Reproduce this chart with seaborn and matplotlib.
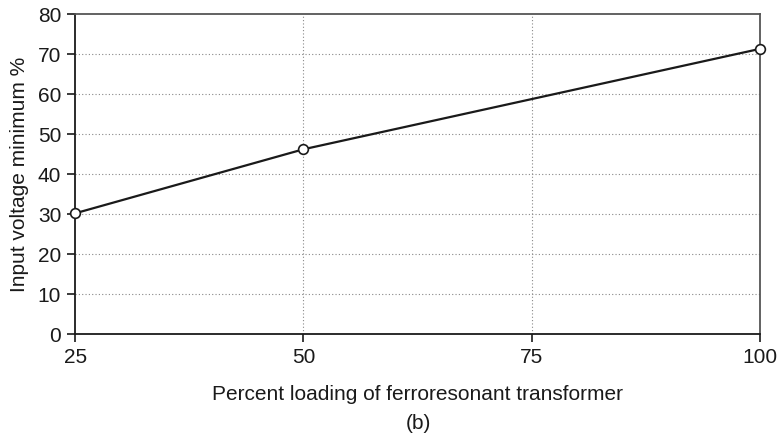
import matplotlib
matplotlib.use("Agg")
import matplotlib.pyplot as plt
import seaborn as sns
import pandas as pd

# Dane
loading = [25, 50, 100]
voltage_min = [30.2, 46.2, 71.3]
x_ticks = [25, 50, 75, 100]
y_ticks = [0, 10, 20, 30, 40, 50, 60, 70, 80]

df = pd.DataFrame({"Loading": loading, "Voltage": voltage_min})

sns.set_style("white")
plt.rcParams["font.family"] = ["Liberation Sans", "DejaVu Sans"]

fig = plt.figure(figsize=(7.82, 4.38), dpi=100)
ax = fig.add_axes([0.096, 0.237, 0.876, 0.731])

# Siatka kropkowana
for yv in y_ticks[1:-1]:
    ax.axhline(yv, color="#888888", linestyle=(0, (1, 2)), linewidth=0.8, zorder=0)
for xv in x_ticks[1:-1]:
    ax.axvline(xv, color="#888888", linestyle=(0, (1, 2)), linewidth=0.8, zorder=0)

sns.lineplot(data=df, x="Loading", y="Voltage", ax=ax, color="#1a1a1a",
             linewidth=1.6, marker="o", markersize=7, markerfacecolor="white",
             markeredgecolor="#1a1a1a", markeredgewidth=1.2, clip_on=False, zorder=5)

ax.set_xlim(25, 100)
ax.set_ylim(0, 80)
ax.set_xticks(x_ticks)
ax.set_yticks(y_ticks)
ax.tick_params(axis="both", labelsize=15, length=6, width=1.2, color="#1a1a1a",
               labelcolor="#1a1a1a", direction="out", left=True, bottom=True, pad=4)

for side in ["left", "bottom"]:
    ax.spines[side].set_color("#1a1a1a")
    ax.spines[side].set_linewidth(1.3)
for side in ["top", "right"]:
    ax.spines[side].set_color("#555555")
    ax.spines[side].set_linewidth(1.3)

ax.set_xlabel("Percent loading of ferroresonant transformer", fontsize=15,
              color="#1a1a1a", labelpad=13)
ax.set_ylabel("Input voltage minimum %", fontsize=15, color="#1a1a1a", labelpad=6)
fig.text(0.5345, 0.034, "(b)", ha="center", va="center", fontsize=15, color="#1a1a1a")

fig.savefig("out.png", dpi=100)
